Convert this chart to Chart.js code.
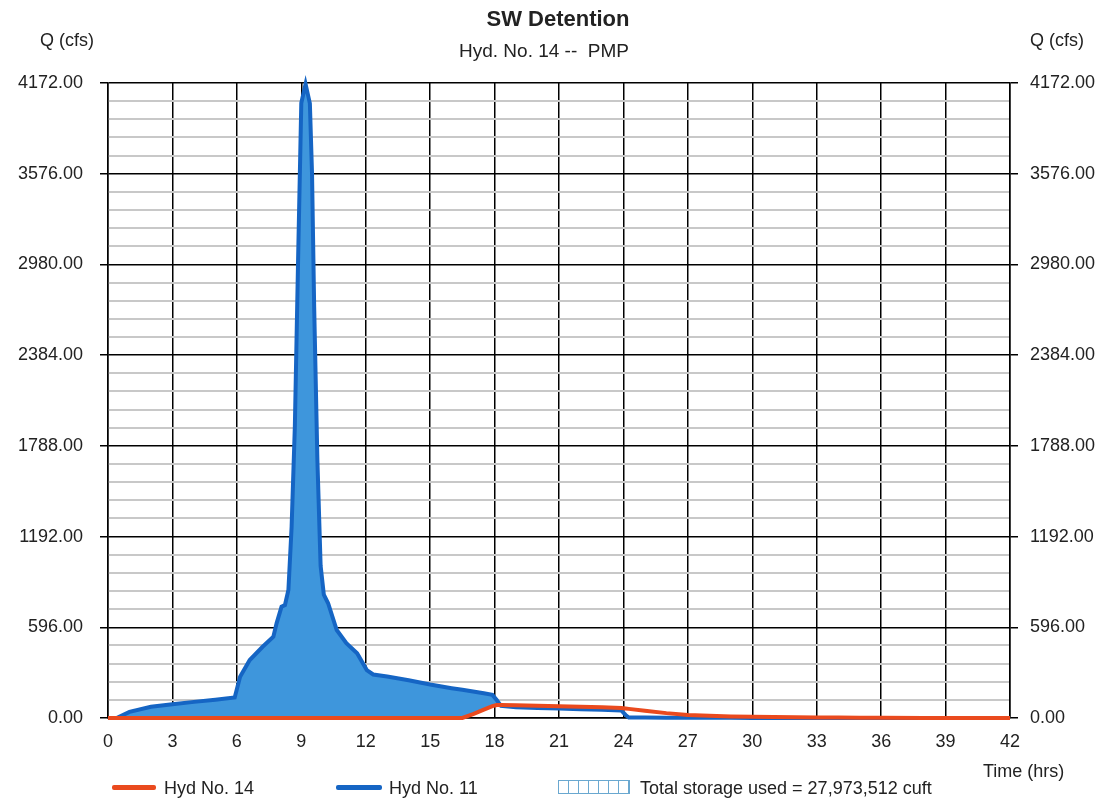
<!DOCTYPE html>
<html>
<head>
<meta charset="utf-8">
<script src="https://cdn.jsdelivr.net/npm/chart.js@4.4.1/dist/chart.umd.min.js"></script>
<style>
  body { margin: 0; background: #fff; font-family: "Liberation Sans", Arial, sans-serif; color: #222; }
  #wrap { position: relative; width: 1103px; height: 802px; }
  #chart { position: absolute; left: 0; top: 0; }
  .txt { position: absolute; font-size: 18px; white-space: pre; line-height: 1; }
  .sample { position: absolute; height: 5px; border-radius: 2px; }
  #hatch {
    position: absolute; left: 558px; top: 780px; width: 72px; height: 14px;
    border: 1px solid #6aa8d0; box-sizing: border-box;
    background: repeating-linear-gradient(90deg, #fff 0px, #fff 9px, #6aa8d0 9px, #6aa8d0 10px);
  }
</style>
</head>
<body>
<div id="wrap">
  <canvas id="chart" width="1103" height="802"></canvas>
  <div class="txt" style="left:0;width:1116px;text-align:center;top:8px;font-size:22px;font-weight:bold;">SW Detention</div>
  <div class="txt" style="left:0;width:1088px;text-align:center;top:41px;font-size:19px;">Hyd. No. 14 --  PMP</div>
  <div class="txt" style="left:40px;top:31px;">Q (cfs)</div>
  <div class="txt" style="left:1030px;top:31px;">Q (cfs)</div>
  <div class="txt" style="left:983px;top:762px;">Time (hrs)</div>

  <div class="sample" style="left:112px;top:785px;width:44px;background:#ea4a1e;"></div>
  <div class="txt" style="left:164px;top:779px;">Hyd No. 14</div>
  <div class="sample" style="left:336px;top:785px;width:46px;background:#1565c4;"></div>
  <div class="txt" style="left:389px;top:779px;">Hyd No. 11</div>
  <div id="hatch"></div>
  <div class="txt" style="left:640px;top:779px;">Total storage used = 27,973,512 cuft</div>
</div>
<script>
// time in hours (shared by both hydrographs)
const hours = [0, 0.4, 1, 2, 3, 4, 5, 5.9, 6.15, 6.6, 7.2, 7.7, 7.85, 8.08, 8.24, 8.4, 8.55, 8.7, 8.85, 9.0,
  9.2, 9.4, 9.5, 9.6, 9.75, 9.9, 10.05, 10.25, 10.65, 11.1, 11.6, 12.05, 12.35, 13, 14, 15, 16, 16.5, 17, 17.5,
  17.9, 18.1, 18.3, 19, 20, 21, 22, 23, 23.9, 24.1, 24.25, 25, 26, 27, 28, 29, 30, 31, 32, 33,
  34, 35, 36, 38, 40, 42];

// inflow - Hyd No. 11 (cfs)
const hyd11 = [0, 0, 40, 74, 91, 106, 120, 135, 271, 381, 468, 534, 622, 731, 742, 841, 1257, 1914, 3000, 4040,
  4165, 4038, 3579, 2700, 1695, 1000, 810, 754, 578, 491, 425, 315, 286, 272, 248, 220, 196, 185, 174, 162,
  152, 118, 80, 70, 66, 62, 58, 54, 50, 20, 3, 3, 2, 2, 1, 1, 0, 0, 0, 0,
  0, 0, 0, 0, 0, 0];

// outflow - Hyd No. 14 (cfs)
const hyd14 = [0, 0, 0, 0, 0, 0, 0, 0, 0, 0, 0, 0, 0, 0, 0, 0, 0, 0, 0, 0,
  0, 0, 0, 0, 0, 0, 0, 0, 0, 0, 0, 0, 0, 0, 0, 0, 0, 0, 25, 55,
  78, 85, 86, 84, 81, 78, 74, 70, 65, 62, 60, 48, 32, 20, 14, 10, 8, 6, 5, 4,
  3, 2, 1, 0, 0, 0];

// tick labels
const qTicks = [0, 596, 1192, 1788, 2384, 2980, 3576, 4172];
const timeTicks = [0, 3, 6, 9, 12, 15, 18, 21, 24, 27, 30, 33, 36, 39, 42];
const minorPerMajor = 5;

// every grid line on the Q axis: majors plus grey minors between them
const qGrid = [];
for (let i = 0; i < qTicks.length - 1; i++) {
  for (let j = 0; j < minorPerMajor; j++) {
    qGrid.push(qTicks[i] + (qTicks[i + 1] - qTicks[i]) * j / minorPerMajor);
  }
}
qGrid.push(qTicks[qTicks.length - 1]);

const isMajor = (i) => i % minorPerMajor === 0;
const tickFont = { family: "'Liberation Sans', Arial, sans-serif", size: 18 };

function qAxis(position, width, pad, onChart) {
  return {
    type: "linear",
    position: position,
    min: 0,
    max: 4172,
    afterBuildTicks: (scale) => { scale.ticks = qGrid.map(v => ({ value: v })); },
    afterFit: (scale) => { scale.width = width; },
    ticks: {
      autoSkip: false,
      padding: pad,
      color: "#222",
      font: tickFont,
      callback: (v, i) => isMajor(i) ? v.toFixed(2) : "",
    },
    grid: {
      drawOnChartArea: onChart,
      tickLength: 8,
      color: (c) => isMajor(c.index) ? "#000" : "#c8c8c8",
      tickColor: (c) => isMajor(c.index) ? "#000" : "rgba(0,0,0,0)",
      lineWidth: (c) => isMajor(c.index) ? 1.5 : 2,
    },
    border: { display: true, color: "#000", width: 1.5 },
  };
}

new Chart(document.getElementById("chart"), {
  type: "line",
  data: {
    datasets: [
      {
        label: "Hyd No. 14",
        data: hours.map((h, i) => ({ x: h, y: hyd14[i] })),
        borderColor: "#ea4a1e",
        borderWidth: 4,
        pointRadius: 0,
        tension: 0,
        fill: false,
        clip: false,
      },
      {
        label: "Hyd No. 11",
        data: hours.map((h, i) => ({ x: h, y: hyd11[i] })),
        borderColor: "#1565c4",
        backgroundColor: "rgb(62,150,220)",
        borderWidth: 4,
        pointRadius: 0,
        tension: 0,
        fill: { target: 0, above: "rgb(62,150,220)", below: "rgba(0,0,0,0)" },
        clip: false,
      },
    ],
  },
  options: {
    responsive: false,
    animation: false,
    devicePixelRatio: 1,
    layout: { padding: { top: 83, left: 0, right: 0, bottom: 0 } },
    plugins: { legend: { display: false }, tooltip: { enabled: false } },
    scales: {
      x: {
        type: "linear",
        min: 0,
        max: 42,
        afterBuildTicks: (scale) => { scale.ticks = timeTicks.map(v => ({ value: v })); },
        afterFit: (scale) => { scale.height = 84; },
        ticks: { padding: 13, color: "#222", font: tickFont, autoSkip: false, maxRotation: 0 },
        grid: { color: "#000", lineWidth: 1.5, drawTicks: false },
        border: { display: true, color: "#000", width: 1.5 },
      },
      y: qAxis("left", 108, 17, true),
      y2: qAxis("right", 93, 12, false),
    },
  },
});
</script>
</body>
</html>
